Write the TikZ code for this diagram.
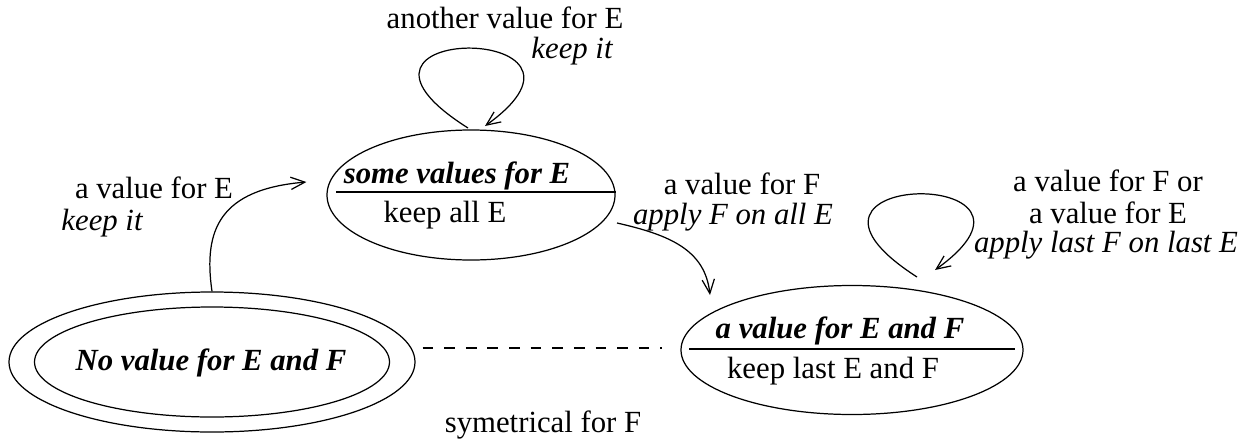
\documentclass[tikz,border=0pt]{standalone}
\usepackage{fontspec}
\setmainfont{Liberation Serif}
\usetikzlibrary{shapes.geometric}
\usetikzlibrary{arrows.meta}
\usetikzlibrary{calc}

\begin{document}
\begin{tikzpicture}[x=0.2mm,y=-0.2mm]
\tikzset{
state/.style = {ellipse,draw,
                inner sep=0pt,
                line width=0.7pt},
lbl/.style = {anchor=base,
              inner sep=0pt,
              font=\fontsize{17.5}{21}\selectfont},
trans/.style = {->,line width=0.7pt},
symline/.style = {line width=0.7pt,
                  dash pattern=on 6.1pt off 6.2pt},
>={Straight Barb[length=8pt,width=7pt]}
}

\useasboundingbox (0,0) rectangle (1253,442);

\node[state,minimum width=81.2mm,minimum height=28mm] (S0out) at (212,362) {};
\node[state,minimum width=71mm,minimum height=22mm]   (S0)    at (212,362) {};
\node[state,minimum width=57.6mm,minimum height=26mm] (SE)    at (471,195) {};
\node[state,minimum width=68.4mm,minimum height=25.8mm] (SEF) at (852,350) {};

\node[lbl] (S0txt)  at (211,370) {\bfseries\itshape No value for E and F};
\node[lbl] (SEtop)  at (457,183) {\bfseries\itshape some values for E};
\node[lbl] (SEbot)  at (445,222) {keep all E};
\node[lbl] (SEFtop) at (840,338) {\bfseries\itshape a value for E and F};
\node[lbl] (SEFbot) at (833,378) {keep last E and F};

\draw[line width=0.7pt] ($(SE.center)+(-135,-3)$) -- ($(SE.center)+(145,-3)$);
\draw[line width=0.7pt] ($(SEF.center)+(-163,-1)$) -- ($(SEF.center)+(163,-1)$);

\node[lbl] (loopE)   at (505,28)  {another value for E};
\node[lbl] (loopEk)  at (572,58)  {\itshape keep it};
\node[lbl] (initE)   at (154,198) {a value for E};
\node[lbl] (initEk)  at (102,230) {\itshape keep it};
\node[lbl] (toF)     at (742,194) {a value for F};
\node[lbl] (toFk)    at (733,224) {\itshape apply F on all E};
\node[lbl] (loopF)   at (1108,191) {a value for F or};
\node[lbl] (loopF2)  at (1108,223) {a value for E};
\node[lbl] (loopFk)  at (1106,252) {\itshape apply last F on last E};
\node[lbl] (symtxt)  at (543,432) {symetrical for F};

\draw[trans] ($(SE)+(-3,-67)$) .. controls ($(SE)+(-171,-173)$) and ($(SE)+(159,-173)$) .. ($(SE)+(14,-69)$);
\draw[trans] ($(SEF)+(65,-73)$) .. controls ($(SEF)+(-103,-181)$) and ($(SEF)+(228,-184)$) .. ($(SEF)+(83,-80)$);
\draw[trans] (S0out.north) .. controls ($(S0out.north)+(-9,-62)$) and ($(S0out.north)+(8,-102)$) .. ($(SE.west)+(-20,-13)$);
\draw[trans] ($(SE)+(146,28)$) .. controls ($(SE)+(199,40)$) and ($(SEF)+(-147,-100)$) .. ($(SEF)+(-142,-55)$);

\coordinate (symL) at ($(S0out.east)+(7,-14)$);
\coordinate (symR) at ($(SEF.west)+(-18,-2)$);
\draw[symline] (symL) -- (symR);
\end{tikzpicture}
\end{document}
